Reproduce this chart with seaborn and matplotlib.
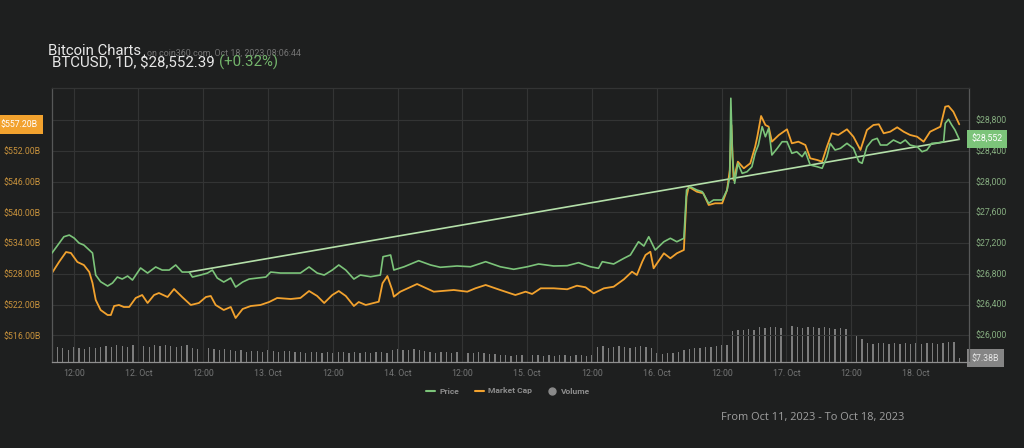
import numpy as np
import pandas as pd
import matplotlib
matplotlib.use("Agg")
import matplotlib.pyplot as plt
import matplotlib.dates as mdates
import matplotlib.transforms as mtransforms
from matplotlib.ticker import FuncFormatter
from matplotlib.lines import Line2D
import seaborn as sns

# ---------------- data ----------------
START = pd.Timestamp("2023-10-11 08:00")

price_hours = [0, 2.2, 3.2, 4.1, 5.0, 5.9, 6.9, 7.5, 8.1, 9.0,
               10.3, 11.2, 12.1, 13.0, 14.0, 14.9, 16.4, 17.7, 19.2, 20.4,
               21.7, 22.9, 24.1, 25.4, 26.0, 27.5, 28.8, 29.7, 30.6, 31.8,
               33.1, 34.0, 35.3, 36.5, 38.0, 39.6, 40.5, 42.3, 44.2, 46.0,
               47.6, 49.1, 50.4, 51.9, 53.1, 54.4, 55.9, 57.1, 59.0, 60.8,
               61.3, 62.7, 63.3, 65.2, 67.9, 70.1, 71.9, 75.0, 77.5, 80.3,
               83.0, 85.5, 88.0, 90.1, 92.9, 95.4, 97.5, 99.7, 101.2, 101.9,
               104.0, 105.9, 107.1, 108.6, 109.6, 110.5, 111.7, 113.3, 114.5, 115.7,
               117.0, 117.5, 118.2, 119.4, 120.4, 121.6, 122.5, 124.1, 125.0, 125.5,
               125.7, 126.0, 126.4, 127.0, 127.8, 128.7, 129.6, 130.2, 130.8, 131.5,
               132.1, 132.7, 133.3, 134.3, 135.2, 136.1, 137.0, 137.9, 138.9, 139.5,
               140.4, 141.7, 142.6, 143.5, 144.1, 145.0, 146.0, 147.2, 148.4, 149.4,
               150.0, 150.9, 151.9, 152.8, 153.4, 154.6, 155.8, 157.1, 158.0, 158.9,
               160.2, 161.1, 162.0, 162.9, 164.2, 165.1, 165.4, 166.0, 166.6, 167.2,
               168.0]
price_usd = [27071, 27283, 27305, 27266, 27201, 27175, 27110, 27071, 26784, 26697,
             26641, 26680, 26758, 26732, 26771, 26719, 26876, 26810, 26889, 26849,
             26849, 26915, 26823, 26823, 26758, 26784, 26810, 26849, 26745, 26693,
             26745, 26628, 26693, 26732, 26745, 26758, 26823, 26810, 26810, 26810,
             26889, 26810, 26784, 26849, 26915, 26849, 26732, 26784, 26762, 26784,
             27023, 27045, 26849, 26892, 26971, 26915, 26885, 26902, 26892, 26958,
             26892, 26859, 26892, 26928, 26902, 26906, 26945, 26892, 26872, 26958,
             26928, 27002, 27045, 27218, 27162, 27283, 27110, 27218, 27263, 27218,
             27263, 27892, 27935, 27892, 27870, 27719, 27762, 27762, 27892, 28065,
             29087, 28326, 27979, 28240, 28109, 28130, 28195, 28370, 28478, 28717,
             28586, 28696, 28348, 28435, 28521, 28521, 28370, 28391, 28326, 28391,
             28218, 28195, 28175, 28326, 28500, 28413, 28435, 28500, 28435, 28261,
             28240, 28456, 28543, 28565, 28478, 28478, 28543, 28500, 28543, 28478,
             28456, 28391, 28413, 28500, 28508, 28521, 28761, 28813, 28739, 28674,
             28552]

mcap_hours = [0, 1.3, 2.6, 3.5, 4.7, 5.9, 6.9, 7.5, 8.1, 9.0,
              10.3, 10.9, 11.5, 12.4, 13.3, 14.3, 15.5, 16.7, 17.7, 18.9,
              19.8, 21.4, 22.6, 24.1, 25.7, 27.2, 28.5, 29.4, 30.3, 31.8,
              33.1, 34.0, 35.3, 36.8, 38.6, 40.2, 41.7, 44.2, 46.0, 47.6,
              49.1, 50.4, 51.9, 53.1, 54.4, 55.9, 56.8, 58.1, 60.5, 61.2,
              62.1, 63.0, 63.3, 64.5, 67.6, 70.7, 74.4, 76.9, 78.4, 80.3,
              83.0, 85.8, 87.7, 88.9, 90.5, 92.9, 95.4, 97.2, 98.8, 100.3,
              102.2, 104.0, 105.9, 107.4, 108.3, 109.3, 109.9, 110.8, 111.4, 113.3,
              114.5, 115.7, 117.0, 117.5, 117.9, 119.4, 120.6, 121.6, 122.8, 124.1,
              125.0, 125.5, 125.8, 126.2, 127.0, 128.1, 129.3, 130.2, 130.6, 131.3,
              132.1, 132.7, 133.3, 134.6, 136.1, 137.0, 138.2, 139.5, 140.4, 141.7,
              142.6, 143.5, 144.4, 145.6, 147.2, 148.4, 149.7, 150.9, 152.1, 153.1,
              154.0, 155.2, 156.5, 157.7, 158.9, 160.2, 161.4, 162.6, 164.5, 165.4,
              166.0, 166.9, 168.0]
mcap_busd = [528.16, 530.31, 532.26, 532.07, 530.31, 529.72, 528.36, 526.21, 522.89, 520.93,
             519.95, 519.95, 521.71, 521.91, 521.52, 521.52, 523.28, 523.86, 522.30, 523.86,
             524.25, 523.47, 525.03, 523.47, 521.91, 522.30, 523.47, 523.67, 521.91, 520.93,
             521.52, 519.37, 521.13, 521.71, 521.91, 522.49, 523.28, 523.08, 523.28, 524.64,
             523.67, 522.30, 523.86, 524.64, 523.67, 521.71, 522.49, 521.91, 522.55, 526.15,
             527.57, 524.84, 523.53, 524.51, 526.01, 524.51, 524.84, 524.51, 525.17, 525.82,
             524.84, 523.86, 524.51, 524.06, 525.17, 525.17, 524.98, 525.68, 525.37, 524.19,
             525.17, 525.48, 526.93, 528.42, 527.77, 530.37, 531.68, 532.32, 529.08, 532.01,
             531.03, 532.01, 532.66, 543.07, 545.02, 544.05, 543.73, 541.45, 541.78, 541.78,
             544.38, 548.29, 557.08, 546.33, 549.91, 548.62, 549.60, 552.84, 554.79, 558.84,
             557.08, 556.75, 553.82, 555.13, 556.24, 553.50, 553.82, 553.17, 550.57, 550.24,
             549.91, 552.84, 555.46, 555.13, 556.24, 554.79, 552.20, 556.10, 557.08, 557.22,
             555.46, 555.77, 556.63, 555.77, 555.13, 554.79, 553.82, 555.77, 556.75, 560.66,
             560.79, 559.68, 557.20]

trend_hours = [25.4, 168.0]
trend_usd = [26823, 28552]

# hourly volume, $B
volume_busd = [8.3, 8.5, 8.4, 8.2, 8.5, 8.4, 8.3, 8.5, 8.4,
               8.5, 8.6, 8.5, 8.7, 8.6, 8.5, 8.7, 8.6, 8.6, 8.5, 8.7, 8.6, 8.7, 8.6, 8.5, 8.6, 8.7,
               8.4, 8.3, 8.2, 8.4, 8.3, 8.2, 8.3, 8.2,
               8.1, 8.2, 8.0, 8.1, 8.1, 8.0, 8.2, 8.1, 8.0, 8.1, 8.1, 8.0,
               8.0, 7.9, 8.0, 8.0, 7.9, 8.0, 7.9, 8.0, 8.0, 7.9, 8.0, 7.9, 8.0, 7.9, 8.0, 8.0, 7.9,
               8.2, 8.3, 8.2, 8.2, 8.3, 8.2, 8.1,
               8.0, 7.9, 8.0, 8.0, 7.9, 8.0, 8.0, 7.9, 7.9, 8.0, 7.9, 7.8, 7.8,
               7.7, 7.7, 7.6, 7.7, 7.7, 7.6, 7.7, 7.7, 7.6, 7.7, 7.6, 7.7, 7.7, 7.6, 7.7, 7.7, 7.6, 7.7,
               8.5, 8.6, 8.4, 8.5, 8.6, 8.5, 8.4, 8.5, 8.6, 8.5, 8.4,
               7.9, 7.8, 7.9, 7.9, 8.0,
               8.2, 8.3, 8.4, 8.4, 8.5, 8.5, 8.6, 8.7, 8.7,
               10.1, 10.2, 10.2, 10.3, 10.2,
               10.5, 10.4, 10.5, 10.5, 10.4, 10.5, 10.6, 10.5, 10.4, 10.5, 10.5, 10.4, 10.5, 10.4, 10.3, 10.4, 10.3, 10.4,
               9.7, 9.3,
               8.9, 8.8, 8.9, 8.9, 8.8, 8.9, 8.8, 8.9, 8.8, 8.9, 8.8, 8.9, 8.9, 8.8, 8.9, 9.0, 9.0,
               7.38]

price_ticks = [26000, 26400, 26800, 27200, 27600, 28000, 28400, 28800]
mcap_ticks = [516, 522, 528, 534, 540, 546, 552, 558]

last_price_label = "$28,552"
last_mcap_label = "$557.20B"
last_volume_label = "$7.38B"

# ---------------- style ----------------
BG = "#1e1f1f"
GRID = "#333434"
GREEN = "#7cc47a"
ORANGE = "#f2a22e"
sns.set_theme(style="dark", rc={"axes.facecolor": BG, "figure.facecolor": BG})
plt.rcParams["font.family"] = ["Roboto", "DejaVu Sans"]

price_t = START + pd.to_timedelta(price_hours, unit="h")
mcap_t = START + pd.to_timedelta(mcap_hours, unit="h")
trend_t = START + pd.to_timedelta(trend_hours, unit="h")
vol_t = START + pd.to_timedelta(np.arange(len(volume_busd)), unit="h")

fig = plt.figure(figsize=(10.24, 4.48), dpi=100, facecolor=BG)
W, H = 1024, 448
ax_mc = fig.add_axes([52 / W, 86 / H, 917 / W, 274 / H])
ax_v = ax_mc.twinx()
ax_p = ax_mc.twinx()
ax_v.set_zorder(0)
ax_mc.set_zorder(1)
ax_p.set_zorder(2)
ax_mc.patch.set_visible(False)

# volume
ax_v.bar(vol_t, volume_busd, width=0.25 / 24, color="#7c7c7c", linewidth=0)
ax_v.set_ylim(7.0, 34.4)
ax_v.set_yticks([])

# market cap
sns.lineplot(x=mcap_t, y=mcap_busd, ax=ax_mc, color=ORANGE, linewidth=1.3)
ax_mc.set_ylim(510.77, 564.31)
ax_mc.set_yticks(mcap_ticks)
ax_mc.yaxis.set_major_formatter(FuncFormatter(lambda v, p: "" if v > 555 else f"${v:.2f}B"))

# price
sns.lineplot(x=trend_t, y=trend_usd, ax=ax_p, color="#b4dfa9", linewidth=1.2)
sns.lineplot(x=price_t, y=price_usd, ax=ax_p, color=GREEN, linewidth=1.2)
ax_p.set_ylim(25651, 29221)
ax_p.set_yticks(price_ticks)
ax_p.yaxis.set_major_formatter(FuncFormatter(lambda v, p: f"${v:,.0f}"))

ax_mc.set_xlim(START, START + pd.Timedelta(hours=169.8))
ax_mc.xaxis.set_major_locator(mdates.HourLocator(byhour=[0, 12]))


def xfmt(v, pos):
    d = mdates.num2date(v)
    return "12:00" if d.hour == 12 else f"{d.day}. Oct"


ax_mc.xaxis.set_major_formatter(FuncFormatter(xfmt))

for a in (ax_mc, ax_v, ax_p):
    a.set_xlabel("")
    a.set_ylabel("")
for a in (ax_v, ax_p):
    for s in a.spines.values():
        s.set_visible(False)

ax_mc.grid(True, color=GRID, linewidth=0.8)
ax_mc.spines["left"].set_color("#575858")
ax_mc.spines["right"].set_color("#575858")
ax_mc.spines["top"].set_color(GRID)
ax_mc.spines["bottom"].set_color("#8e8e8e")
for s in ax_mc.spines.values():
    s.set_visible(True)
    s.set_linewidth(0.9)

ax_mc.tick_params(axis="y", colors="#c8923c", labelsize=6.3, pad=8, length=0)
ax_mc.tick_params(axis="x", colors="#757676", labelsize=6.3, pad=5, length=0)
ax_p.tick_params(axis="y", colors="#86ad80", labelsize=6.3, pad=5, length=0)

# value boxes
tr_p = mtransforms.blended_transform_factory(ax_p.transAxes, ax_p.transData)
ax_p.text(1.003, price_usd[-1], last_price_label, transform=tr_p, ha="left", va="center",
          color="white", fontsize=6.3, zorder=10,
          bbox=dict(boxstyle="square,pad=0.5", fc=GREEN, ec="none"))
tr_m = mtransforms.blended_transform_factory(ax_mc.transAxes, ax_mc.transData)
ax_mc.text(-0.0155, mcap_busd[-1], last_mcap_label, transform=tr_m, ha="right", va="center",
           color="white", fontsize=6.3, zorder=10, clip_on=False,
           bbox=dict(boxstyle="square,pad=0.55", fc=ORANGE, ec="none"))
tr_v = mtransforms.blended_transform_factory(ax_v.transAxes, ax_v.transData)
ax_v.text(1.003, volume_busd[-1], last_volume_label, transform=tr_v, ha="left", va="center",
          color="#e6e6e6", fontsize=6.3, zorder=10, clip_on=False,
          bbox=dict(boxstyle="square,pad=0.5", fc="#858585", ec="none"))

# titles
fig.text(48 / W, 1 - 55 / H, "Bitcoin Charts", color="#e8e8e8", fontsize=10.7, va="baseline")
fig.text(147 / W, 1 - 55.5 / H, "on coin360.com, Oct 18, 2023 08:06:44", color="#747474",
         fontsize=6.4, va="baseline")
t1 = fig.text(52 / W, 1 - 67 / H, "BTCUSD, 1D, $28,552.39 ", color="#e8e8e8", fontsize=10.8,
              va="baseline")
fig.canvas.draw()
bb = t1.get_window_extent(renderer=fig.canvas.get_renderer())
fig.text(bb.x1 / W, 1 - 67 / H, "(+0.32%)", color="#74b56c", fontsize=10.8, va="baseline")

# legend
handles = [Line2D([], [], color=GREEN, lw=1.5),
           Line2D([], [], color=ORANGE, lw=1.5),
           Line2D([], [], color="#8a8a8a", lw=0, marker="o", markersize=5)]
fig.legend(handles, ["Price", "Market Cap", "Volume"], loc="center",
           bbox_to_anchor=(508 / W, 1 - 391 / H), ncol=3, frameon=False,
           handlelength=1.1, handletextpad=0.5, columnspacing=1.8,
           prop={"family": "Roboto", "weight": "bold", "size": 6.1}, labelcolor="#8c8c8c")

fig.text(813 / W, 1 - 417 / H, "From Oct 11, 2023 - To Oct 18, 2023", color="#a0a0a0",
         fontsize=7.9, ha="center", va="center", family=["Open Sans", "DejaVu Sans"])

fig.savefig("out.png", dpi=100, facecolor=BG)
